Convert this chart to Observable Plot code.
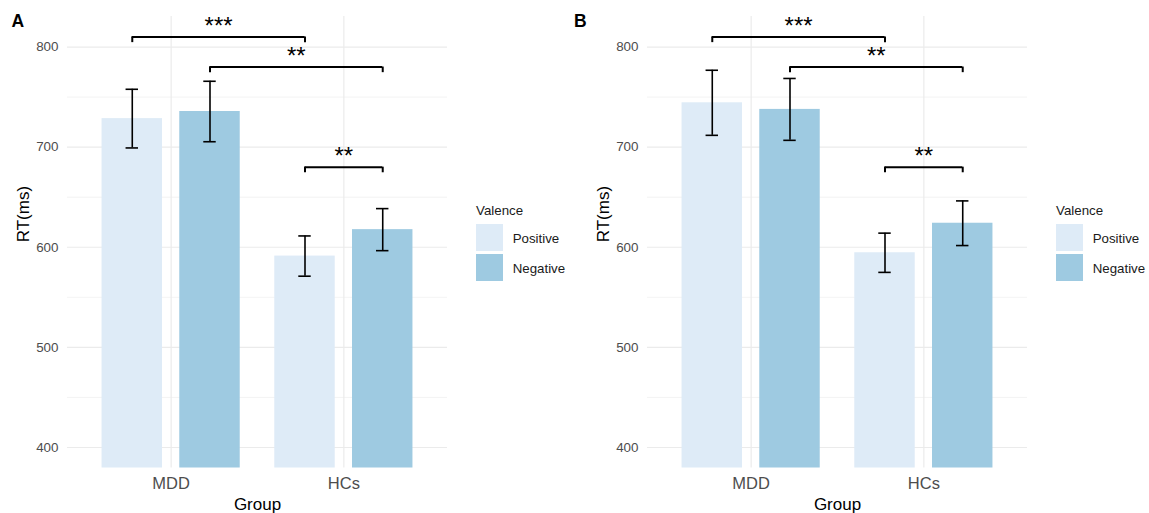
<!DOCTYPE html>
<html><head><meta charset="utf-8">
<script src="https://cdn.jsdelivr.net/npm/d3@7"></script>
<script src="https://cdn.jsdelivr.net/npm/@observablehq/plot@0.6"></script>
<style>
html,body{margin:0;padding:0;background:#fff;}
body{width:1149px;height:513px;overflow:hidden;position:relative;font-family:"Liberation Sans",Arial,sans-serif;}
.panel{position:absolute;top:0;}
.tag{position:absolute;font-weight:bold;font-size:17.5px;line-height:17.5px;color:#000;}
.lg{position:absolute;font-size:13.3px;line-height:13.3px;color:#1a1a1a;white-space:nowrap;}
.key{position:absolute;width:27px;height:27px;}
</style></head><body>
<script>
// ---- data ----
const groups = ["MDD", "HCs"];
const valences = ["Positive", "Negative"];
const valenceColors = ["#DEEBF7", "#9ECAE1"];
const yTicks = [400, 500, 600, 700, 800];
const yMinorTicks = [450, 550, 650, 750];

// Panel A (means and error half-widths, per group: MDD, HCs)
const posMeanA = [728.5, 591.2];
const negMeanA = [735.6, 617.6];
const posErrA  = [29.3, 20.1];
const negErrA  = [30.2, 21.0];

// Panel B
const posMeanB = [744.3, 594.5];
const negMeanB = [737.7, 624.0];
const posErrB  = [32.5, 19.6];
const negErrB  = [30.9, 22.3];

// significance comparisons (same in both panels)
const compFromGroup = ["MDD", "MDD", "HCs"];
const compFromValence = ["Positive", "Negative", "Positive"];
const compToGroup = ["HCs", "HCs", "HCs"];
const compToValence = ["Positive", "Negative", "Negative"];
const compLevel = [810, 780, 680];
const compLabel = ["***", "**", "**"];

// ---- layout constants ----
const DODGE = [-0.225, 0.225];
const BAR_HALF = 0.175;
const CAP_HALF = 0.036;
const TIP = 5.6;

function makePanel(posMean, negMean, posErr, negErr, width, marginRight) {
  const rows = [];
  groups.forEach((g, i) => {
    valences.forEach((v, j) => {
      const m = (j === 0 ? posMean : negMean)[i];
      const e = (j === 0 ? posErr : negErr)[i];
      rows.push({group: g, valence: v, gi: i + 1, vj: j, mean: m, lo: m - e, hi: m + e});
    });
  });
  const pos = d => d.gi + DODGE[d.vj];
  const posOf = (g, v) => groups.indexOf(g) + 1 + DODGE[valences.indexOf(v)];
  const brackets = compLevel.map((lvl, k) => ({
    x1: posOf(compFromGroup[k], compFromValence[k]),
    x2: posOf(compToGroup[k], compToValence[k]),
    y: lvl, label: compLabel[k]
  }));
  const grid = {stroke: "#EBEBEB", strokeOpacity: 1};
  return Plot.plot({
    width, height: 513,
    marginLeft: 67, marginRight, marginTop: 16, marginBottom: 45.5,
    style: {fontFamily: "'Liberation Sans', Arial, sans-serif", background: "transparent", overflow: "visible"},
    x: {type: "linear", domain: [0.4, 2.6]},
    y: {domain: [379.5, 830.5]},
    color: {domain: valences, range: valenceColors},
    marks: [
      Plot.gridY(yMinorTicks, {...grid, strokeWidth: 0.6}),
      Plot.gridY(yTicks, {...grid, strokeWidth: 1.2}),
      Plot.gridX([1, 2], {...grid, strokeWidth: 1.2}),
      Plot.rect(rows, {x1: d => pos(d) - BAR_HALF, x2: d => pos(d) + BAR_HALF, y1: 0, y2: "mean", fill: "valence", clip: true}),
      Plot.ruleX(rows, {x: pos, y1: "lo", y2: "hi", stroke: "#000", strokeWidth: 1.6}),
      Plot.ruleY(rows, {y: "hi", x1: d => pos(d) - CAP_HALF, x2: d => pos(d) + CAP_HALF, stroke: "#000", strokeWidth: 1.6}),
      Plot.ruleY(rows, {y: "lo", x1: d => pos(d) - CAP_HALF, x2: d => pos(d) + CAP_HALF, stroke: "#000", strokeWidth: 1.6}),
      Plot.ruleY(brackets, {y: "y", x1: "x1", x2: "x2", stroke: "#000", strokeWidth: 2}),
      Plot.ruleX(brackets, {x: "x1", y1: "y", y2: d => d.y - TIP, stroke: "#000", strokeWidth: 2}),
      Plot.ruleX(brackets, {x: "x2", y1: "y", y2: d => d.y - TIP, stroke: "#000", strokeWidth: 2}),
      Plot.text(brackets, {x: d => (d.x1 + d.x2) / 2, y: "y", text: "label", fontSize: 24, lineAnchor: "bottom", dy: -3.5, fill: "#000"}),
      Plot.axisY(yTicks, {tickSize: 0, tickPadding: 9, fontSize: 13.4, color: "#4D4D4D", label: null}),
      Plot.axisX([1, 2], {tickSize: 0, tickPadding: 9, fontSize: 16.5, color: "#4D4D4D", label: null, tickFormat: i => groups[i - 1]}),
      Plot.text(["RT(ms)"], {frameAnchor: "left", rotate: -90, dx: -44, fontSize: 17, fill: "#000"}),
      Plot.text(["Group"], {frameAnchor: "bottom", dy: 42, lineAnchor: "bottom", fontSize: 17, fill: "#000"})
    ]
  });
}

function addPanel(svg, left) {
  const d = document.createElement("div");
  d.className = "panel";
  d.style.left = left + "px";
  d.appendChild(svg);
  document.body.appendChild(d);
}
function addText(cls, text, left, top) {
  const d = document.createElement("div");
  d.className = cls;
  d.textContent = text;
  d.style.left = left + "px";
  d.style.top = top + "px";
  document.body.appendChild(d);
  return d;
}
function addLegend(left) {
  addText("lg", "Valence", left, 203.7);
  valences.forEach((v, j) => {
    const k = document.createElement("div");
    k.className = "key";
    k.style.left = left + "px";
    k.style.top = (224 + j * 30) + "px";
    k.style.background = valenceColors[j];
    document.body.appendChild(k);
    addText("lg", v, left + 36.7, 232 + j * 30);
  });
}

addPanel(makePanel(posMeanA, negMeanA, posErrA, negErrA, 574, 127), 0);
addPanel(makePanel(posMeanB, negMeanB, posErrB, negErrB, 569, 122), 580);
addLegend(476);
addLegend(1056);
addText("tag", "A", 11.5, 12.5);
addText("tag", "B", 574, 12.5);
</script>
</body></html>
